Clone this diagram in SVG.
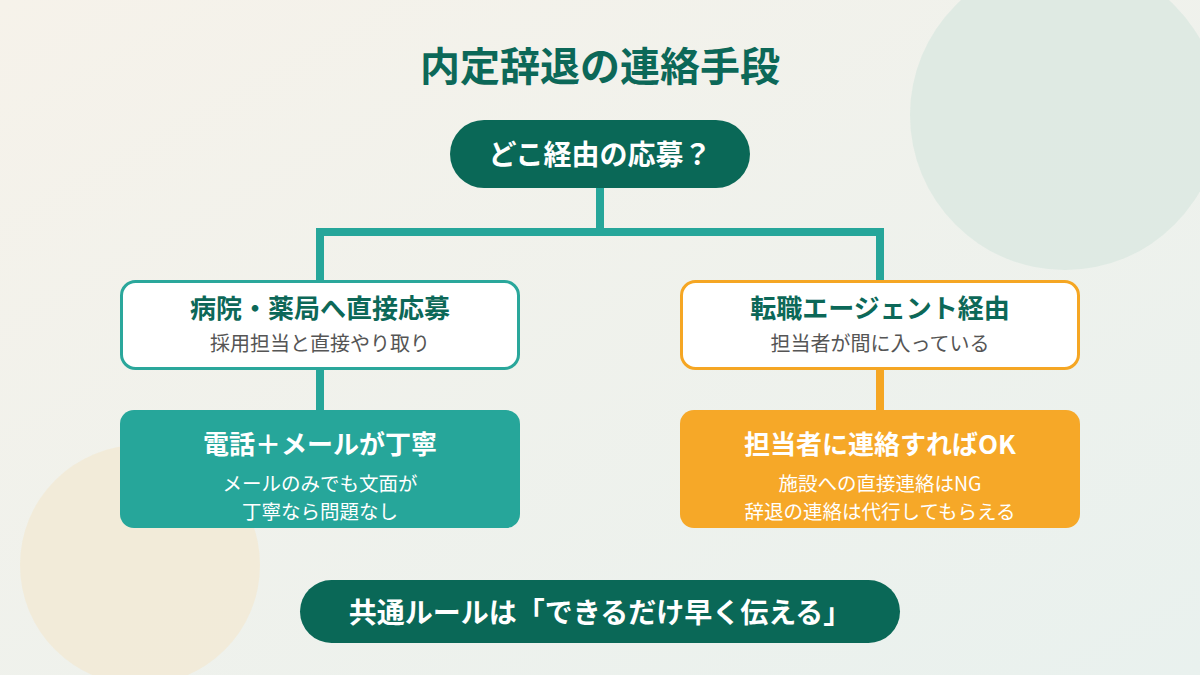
<svg xmlns="http://www.w3.org/2000/svg" width="1200" height="675" viewBox="0 0 1200 675">
<defs>
<linearGradient id="bg" x1="0" y1="0" x2="1" y2="1">
<stop offset="0" stop-color="#f6f2ea"/>
<stop offset="1" stop-color="#e9f1ee"/>
</linearGradient>
<style>
.t{font-family:"Noto Sans CJK JP","Noto Sans",sans-serif;text-anchor:middle}
.b{font-weight:700}
.dark{fill:#0c6858}
.w{fill:#ffffff}
.g{fill:#555555}
.tealL{stroke:#26a69a;stroke-width:8;fill:none}
.orL{stroke:#f5a623;stroke-width:8;fill:none}
</style>
</defs>
<rect width="1200" height="675" fill="url(#bg)"/>
<circle cx="1065" cy="115" r="155" fill="#dce9e2" opacity="0.85"/>
<circle cx="140" cy="565" r="120" fill="#f2ead6" opacity="0.85"/>
<text class="t b dark" x="600" y="81" font-size="40">内定辞退の連絡手段</text>
<g id="connectors">
<path class="tealL" d="M600 188 V232 M320 232 H880 M320 228 V282 M880 228 V282"/>
<path class="tealL" d="M320 368 V412"/>
<path class="orL" d="M880 368 V412"/>
</g>
<g id="q">
<rect x="450" y="120" width="300" height="68" rx="34" fill="#0a6857"/>
<text class="t b w" x="600" y="165" font-size="28">どこ経由の応募？</text>
</g>
<g id="direct">
<rect x="121.5" y="281.5" width="397" height="87" rx="14" fill="#ffffff" stroke="#2aa79b" stroke-width="3"/>
<text class="t b dark" x="320" y="318" font-size="26">病院・薬局へ直接応募</text>
<text class="t g" x="320" y="351" font-size="20">採用担当と直接やり取り</text>
</g>
<g id="agent">
<rect x="681.5" y="281.5" width="397" height="87" rx="14" fill="#ffffff" stroke="#f5a623" stroke-width="3"/>
<text class="t b dark" x="880" y="318" font-size="26">転職エージェント経由</text>
<text class="t g" x="880" y="351" font-size="20">担当者が間に入っている</text>
</g>
<g id="directAns">
<rect x="120" y="410" width="400" height="118" rx="14" fill="#26a69a"/>
<text class="t b w" x="320" y="454" font-size="26">電話＋メールが丁寧</text>
<text class="t w" x="320" y="491" font-size="19.5">メールのみでも文面が</text>
<text class="t w" x="320" y="519" font-size="19.5">丁寧なら問題なし</text>
</g>
<g id="agentAns">
<rect x="680" y="410" width="400" height="118" rx="14" fill="#f6a828"/>
<text class="t b w" x="880" y="454" font-size="26">担当者に連絡すればOK</text>
<text class="t w" x="880" y="491" font-size="19.5">施設への直接連絡はNG</text>
<text class="t w" x="880" y="519" font-size="19.5">辞退の連絡は代行してもらえる</text>
</g>
<g id="rule">
<rect x="300" y="580" width="600" height="63" rx="31.5" fill="#0a6857"/>
<text class="t b w" x="600" y="623" font-size="28">共通ルールは「できるだけ早く伝える」</text>
</g>
</svg>
